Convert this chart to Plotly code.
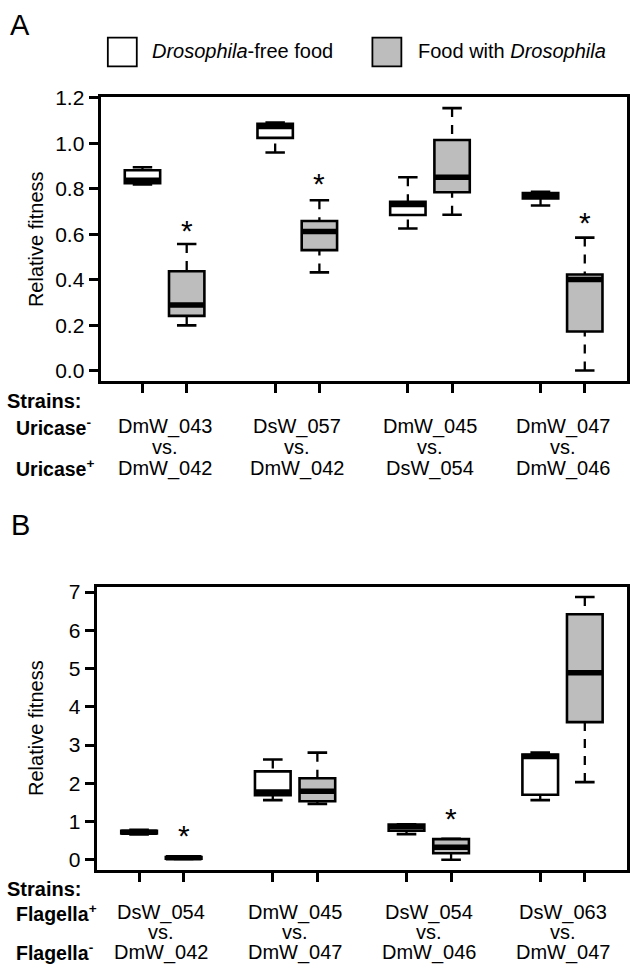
import plotly.graph_objects as go

W, H = 630, 972

# ---------------- data ----------------
conditions = ["Drosophila-free food", "Food with Drosophila"]

A_top = ["DmW_043", "DsW_057", "DmW_045", "DmW_047"]
A_bot = ["DmW_042", "DmW_042", "DsW_054", "DmW_046"]
B_top = ["DsW_054", "DmW_045", "DsW_054", "DsW_063"]
B_bot = ["DmW_042", "DmW_047", "DmW_046", "DmW_047"]

# Panel A  (lower whisker, Q1, median, Q3, upper whisker)
A_free_low = [0.820, 0.960, 0.626, 0.727]
A_free_q1  = [0.825, 1.024, 0.685, 0.758]
A_free_med = [0.838, 1.074, 0.731, 0.770]
A_free_q3  = [0.882, 1.086, 0.743, 0.782]
A_free_up  = [0.895, 1.092, 0.851, 0.787]

A_dros_low = [0.200, 0.433, 0.686, 0.002]
A_dros_q1  = [0.242, 0.531, 0.785, 0.173]
A_dros_med = [0.290, 0.613, 0.851, 0.402]
A_dros_q3  = [0.438, 0.659, 1.015, 0.424]
A_dros_up  = [0.558, 0.750, 1.155, 0.586]

A_star_idx = [0, 1, 3]
A_star_y   = [0.652, 0.860, 0.688]

# Panel B
B_free_low = [0.66, 1.56, 0.67, 1.56]
B_free_q1  = [0.69, 1.69, 0.76, 1.70]
B_free_med = [0.72, 1.77, 0.86, 2.70]
B_free_q3  = [0.76, 2.31, 0.92, 2.75]
B_free_up  = [0.78, 2.62, 0.93, 2.80]

B_dros_low = [0.02, 1.46, 0.00, 2.03]
B_dros_q1  = [0.03, 1.53, 0.17, 3.60]
B_dros_med = [0.05, 1.79, 0.33, 4.89]
B_dros_q3  = [0.07, 2.13, 0.54, 6.42]
B_dros_up  = [0.08, 2.80, 0.55, 6.87]

B_star_idx = [0, 2]
B_star_y   = [0.84, 1.29]

A_yticks = [0.0, 0.2, 0.4, 0.6, 0.8, 1.0, 1.2]
B_yticks = [0, 1, 2, 3, 4, 5, 6, 7]

# ---------------- style ----------------
FONT = "Liberation Sans, Arial, Helvetica, sans-serif"
WHITE, GREY = "#ffffff", "#bdbdbd"
BOXW = 0.8
CAPW = 0.22


def py(p):
    return 1 - p / H


def px(p):
    return p / W


fig = go.Figure()


def add_group(xa, ya, pos, low, q1, med, q3, up, fill):
    fig.add_trace(go.Box(
        x=pos, q1=q1, median=med, q3=q3, lowerfence=q1, upperfence=q3,
        width=BOXW, fillcolor=fill, line=dict(color="black", width=2.6),
        whiskerwidth=0, boxpoints=False, showlegend=False, hoverinfo="skip",
        xaxis=xa, yaxis=ya))


def add_lines(xa, ya, pos, low, q1, med, q3, up):
    mx, my, wx, wy, cx, cy = [], [], [], [], [], []
    for p, l, a, m, b, u in zip(pos, low, q1, med, q3, up):
        mx += [p - BOXW / 2, p + BOXW / 2, None]
        my += [m, m, None]
        if u > b:
            wx += [p, p, None]
            wy += [u, b, None]
        if l < a:
            wx += [p, p, None]
            wy += [l, a, None]
        cx += [p - CAPW, p + CAPW, None, p - CAPW, p + CAPW, None]
        cy += [u, u, None, l, l, None]
    fig.add_trace(go.Scatter(x=wx, y=wy, mode="lines", xaxis=xa, yaxis=ya,
                             line=dict(color="black", width=2.3, dash="9px,8px"),
                             showlegend=False, hoverinfo="skip"))
    fig.add_trace(go.Scatter(x=cx, y=cy, mode="lines", xaxis=xa, yaxis=ya,
                             line=dict(color="black", width=2.6),
                             showlegend=False, hoverinfo="skip"))
    fig.add_trace(go.Scatter(x=mx, y=my, mode="lines", xaxis=xa, yaxis=ya,
                             line=dict(color="black", width=5.5),
                             showlegend=False, hoverinfo="skip"))


pos_free = [3 * i + 1 for i in range(4)]
pos_dros = [3 * i + 2 for i in range(4)]

panels = [
    ("x", "y", (A_free_low, A_free_q1, A_free_med, A_free_q3, A_free_up),
     (A_dros_low, A_dros_q1, A_dros_med, A_dros_q3, A_dros_up)),
    ("x2", "y2", (B_free_low, B_free_q1, B_free_med, B_free_q3, B_free_up),
     (B_dros_low, B_dros_q1, B_dros_med, B_dros_q3, B_dros_up)),
]
for xa, ya, fr, dr in panels:
    add_group(xa, ya, pos_free, *fr, WHITE)
    add_group(xa, ya, pos_dros, *dr, GREY)
for xa, ya, fr, dr in panels:
    add_lines(xa, ya, pos_free, *fr)
    add_lines(xa, ya, pos_dros, *dr)

ann = []
# stars
for xr, yr, idx, ys in [("x", "y", A_star_idx, A_star_y), ("x2", "y2", B_star_idx, B_star_y)]:
    for i, yv in zip(idx, ys):
        ann.append(dict(x=pos_dros[i], y=yv, xref=xr, yref=yr, text="*", showarrow=False,
                        font=dict(size=30, family=FONT, color="black"), yshift=-8))

# y-axis titles
for yc in [231, 726]:
    ann.append(dict(x=px(36), y=py(yc), xref="paper", yref="paper", text="Relative fitness",
                    textangle=-90, showarrow=False, xanchor="center", yanchor="middle",
                    font=dict(size=20, family=FONT, color="black")))

# panel letters
ann.append(dict(x=px(20), y=py(14), xref="paper", yref="paper", text="A", showarrow=False,
                xanchor="center", yanchor="middle", font=dict(size=29, family=FONT, color="black")))
ann.append(dict(x=px(21), y=py(520), xref="paper", yref="paper", text="B", showarrow=False,
                xanchor="center", yanchor="middle", font=dict(size=29, family=FONT, color="black")))


# strain labels
def strain_rows(xr, tops, bots, rows, lab1, lab2):
    ys, y1, yv, y2 = rows
    ann.append(dict(x=px(5), y=py(ys), xref="paper", yref="paper", text="<b>Strains:</b>",
                    showarrow=False, xanchor="left", yanchor="middle",
                    font=dict(size=20, family=FONT, color="black")))
    ann.append(dict(x=px(14), y=py(y1), xref="paper", yref="paper", text=lab1,
                    showarrow=False, xanchor="left", yanchor="middle",
                    font=dict(size=19.5, family=FONT, color="black")))
    ann.append(dict(x=px(14), y=py(y2), xref="paper", yref="paper", text=lab2,
                    showarrow=False, xanchor="left", yanchor="middle",
                    font=dict(size=19.5, family=FONT, color="black")))
    for i in range(4):
        xc = (pos_free[i] + pos_dros[i]) / 2
        for txt, yy in [(tops[i], y1), ("vs.", yv), (bots[i], y2)]:
            ann.append(dict(x=xc, y=py(yy), xref=xr, yref="paper", text=txt, showarrow=False,
                            xanchor="center", yanchor="middle",
                            font=dict(size=20, family=FONT, color="black")))


strain_rows("x", A_top, A_bot, (395, 421, 441, 463),
            "<b>Uricase<sup>-</sup></b>", "<b>Uricase<sup>+</sup></b>")
strain_rows("x2", B_top, B_bot, (889, 913, 933, 953),
            "<b>Flagella<sup>+</sup></b>", "<b>Flagella<sup>-</sup></b>")

# legend
shapes = []
for (x0, x1), fill, (tx, txt) in zip([(108, 137), (373, 402)], [WHITE, GREY],
                                     [(150, "<i>Drosophila</i>-free food"),
                                      (417, "Food with <i>Drosophila</i>")]):
    shapes.append(dict(type="rect", xref="paper", yref="paper", x0=px(x0), x1=px(x1),
                       y0=py(56), y1=py(27), fillcolor=fill, line=dict(color="black", width=1.8)))
    ann.append(dict(x=px(tx), y=py(41), xref="paper", yref="paper", text=txt, showarrow=False,
                    xanchor="left", yanchor="middle", font=dict(size=20, family=FONT, color="black")))

axis_common = dict(showline=True, mirror=True, linecolor="black", linewidth=3,
                   ticks="outside", ticklen=9, tickwidth=2.5, tickcolor="black",
                   showgrid=False, zeroline=False,
                   tickfont=dict(size=21, family=FONT, color="black"))

fig.update_layout(
    width=W, height=H, margin=dict(l=0, r=0, t=0, b=0),
    paper_bgcolor="white", plot_bgcolor="white", showlegend=False,
    boxmode="overlay",
    xaxis=dict(domain=[px(100.7), px(627.7)], range=[0.052, 11.948], anchor="y",
               tickvals=pos_free + pos_dros, showticklabels=False, **axis_common),
    yaxis=dict(domain=[py(375), py(87.5)], range=[-0.046, 1.202], anchor="x",
               tickvals=A_yticks, tickformat=".1f", **axis_common),
    xaxis2=dict(domain=[px(96.7), px(627.7)], range=[0.046, 11.94], anchor="y2",
                tickvals=pos_free + pos_dros, showticklabels=False, **axis_common),
    yaxis2=dict(domain=[py(870), py(582.7)], range=[-0.275, 7.145], anchor="x2",
                tickvals=B_yticks, **axis_common),
    annotations=ann, shapes=shapes,
)

fig.write_html("out.html", config={"displayModeBar": False},
               post_script="document.body.style.margin='0px';document.body.style.overflow='hidden';")
